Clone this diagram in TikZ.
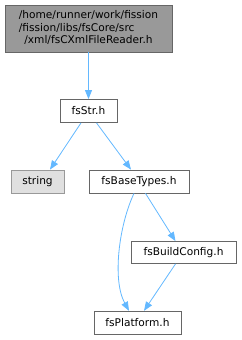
\documentclass[tikz,border=0pt]{standalone}
\usepackage{fontspec}
\setmainfont{DejaVu Sans}
\usetikzlibrary{arrows.meta,calc}
\definecolor{edgeblue}{HTML}{63B8FF}
\definecolor{boxborder}{HTML}{666666}
\definecolor{curfill}{HTML}{999999}
\definecolor{extfill}{HTML}{E0E0E0}
\definecolor{extborder}{HTML}{999999}
\begin{document}
\begin{tikzpicture}[x=1pt,y=-1pt,
  filebox/.style={draw=boxborder,fill=white,line width=0.8pt,inner sep=0pt,
    font=\fontsize{10.6}{12.6}\selectfont,minimum height=23pt},
  curbox/.style={filebox,fill=curfill},
  extbox/.style={filebox,fill=extfill,draw=extborder},
  dep/.style={draw=edgeblue,line width=0.8pt,-{Triangle[length=9pt,width=7pt]}}]
\useasboundingbox (0,0) rectangle (241,340);
\node[curbox,minimum width=167pt,minimum height=47pt] (top) at (88.5,28.5)
  {\renewcommand\arraystretch{1}\begin{tabular}{@{}l@{}}/home/runner/work/fission\\/fission/libs/fsCore/src\\\multicolumn{1}{@{}c@{}}{/xml/fsCXmlFileReader.h}\end{tabular}};
\node[filebox,minimum width=57pt] (str) at (88.5,111) {fsStr.h};
\node[extbox,minimum width=53pt] (string) at (37.5,181.5) {string};
\node[filebox,minimum width=100pt] (bt) at (139,181.5) {fsBaseTypes.h};
\node[filebox,minimum width=105pt,minimum height=22pt] (bc) at (183.5,252.5) {fsBuildConfig.h};
\node[filebox,minimum width=87pt] (pl) at (137.5,322.7) {fsPlatform.h};
\draw[dep] (top.south) -- (str.north);
\draw[dep] ($(str.south)+(-7.5,0)$) -- ($(string.north)+(12.5,0)$);
\draw[dep] ($(str.south)+(8,0)$) -- ($(bt.north)+(-8,0)$);
\draw[dep] ($(bt.south)+(-5,0)$) .. controls (119,225) and (112,280) .. ($(pl.north)+(-8.5,0)$);
\draw[dep] ($(bt.south)+(6.5,0)$) -- ($(bc.north)+(-8,0)$);
\draw[dep] ($(bc.south)+(-8,0)$) -- ($(pl.north)+(6.5,0)$);
\end{tikzpicture}
\end{document}
